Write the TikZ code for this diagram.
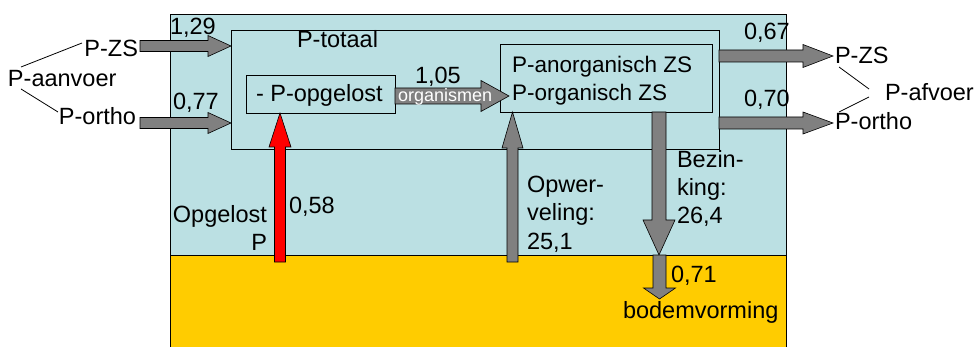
\documentclass[tikz,border=0pt]{standalone}
\usepackage{fontspec}
\setmainfont{Liberation Sans}
\usetikzlibrary{calc}
\definecolor{water}{RGB}{187,224,227}
\definecolor{soil}{RGB}{255,204,0}
\definecolor{flow}{RGB}{128,128,128}
% block arrow: style, from, to, shaft half width, head half width, head length
\newcommand\blockarrow[6]{%
  \coordinate (bahead) at ($(#3)!#6!(#2)$);
  \draw[#1] ($(#2)!#4!90:(#3)$) -- ($(bahead)!#4!90:(#3)$) -- ($(bahead)!#5!90:(#3)$)
    -- (#3) -- ($(bahead)!#5!-90:(#3)$) -- ($(bahead)!#4!-90:(#3)$)
    -- ($(#2)!#4!-90:(#3)$) -- cycle;}
\begin{document}
\begin{tikzpicture}[x=1pt,y=-1pt,
  box/.style={draw=black,line width=0.8pt,inner sep=0,outer sep=0},
  txt/.style={inner sep=0,outer sep=0,font=\fontsize{23.5}{28}\selectfont},
  small/.style={inner sep=0,outer sep=0,font=\fontsize{18}{21}\selectfont,text=white},
  grey/.style={fill=flow,draw=black,line width=0.6pt},
  redarrow/.style={fill=red,draw=black,line width=0.6pt},
  link/.style={draw=black,line width=0.8pt}]
\useasboundingbox (0,0) rectangle (976,347);

% water column and sediment
\node[box,fill=water,minimum width=616,minimum height=334] (water) at (478,181) {};
\node[box,fill=soil,minimum width=616,minimum height=93] (sediment) at (478,301.5) {};

% compartments
\node[box,minimum width=488,minimum height=119] (totaal) at (475,89.5) {};
\node[box,minimum width=149,minimum height=38] (opgelost) at (320.5,94) {};
\node[box,minimum width=212,minimum height=68] (anorg) at (606,78) {};

\node[txt,anchor=base west] (totaallbl) at (297,48) {P-totaal};
\node[txt,anchor=base west] (opglbl) at (256,102) {- P-opgelost};
\node[txt,anchor=base west,font=\fontsize{22.5}{28}\selectfont] (anorg1) at (512,73) {P-anorganisch ZS};
\node[txt,anchor=base west,font=\fontsize{22.5}{28}\selectfont] (anorg2) at (512,101) {P-organisch ZS};

% supply side
\node[txt,anchor=base west] (aanvoer) at (8,87) {P-aanvoer};
\node[txt,anchor=base east] (zsin) at (138,57) {P-ZS};
\node[txt,anchor=base east] (orthoin) at (136,125) {P-ortho};
\coordinate (aanvA) at (21,67);
\coordinate (aanvB) at (21,89);
\coordinate (zsinL) at (82,43);
\coordinate (orthoinL) at (58,112);
\draw[link] (aanvA) -- (zsinL);
\draw[link] (aanvB) -- (orthoinL);

\coordinate (inZS) at (140,46);
\coordinate (inOrtho) at (140,123);
\coordinate (inZStip) at (totaal.west |- inZS);
\coordinate (inOrthotip) at (totaal.west |- inOrtho);
\blockarrow{grey}{inZS}{inZStip}{5.5pt}{10.5pt}{23pt}
\blockarrow{grey}{inOrtho}{inOrthotip}{5.5pt}{10.5pt}{23pt}
\node[txt,anchor=base west] (v129) at (170,35) {1,29};
\node[txt,anchor=base west] (v077) at (173,110) {0,77};

% export side
\coordinate (outZS) at (833,56);
\coordinate (outOrtho) at (833,123);
\coordinate (outZSfoot) at (totaal.east |- outZS);
\coordinate (outOrthofoot) at (totaal.east |- outOrtho);
\blockarrow{grey}{outZSfoot}{outZS}{6pt}{11.5pt}{30pt}
\blockarrow{grey}{outOrthofoot}{outOrtho}{6pt}{11pt}{30pt}
\node[txt,anchor=base west] (v067) at (744,40) {0,67};
\node[txt,anchor=base west] (v070) at (744,107) {0,70};
\node[txt,anchor=base west] (zsout) at (835,64) {P-ZS};
\node[txt,anchor=base west] (orthoout) at (835,130) {P-ortho};
\node[txt,anchor=base west] (afvoer) at (885,101) {P-afvoer};
\coordinate (zsoutL) at (839,67);
\coordinate (orthooutL) at (839,112);
\coordinate (afvA) at (869,89);
\coordinate (afvB) at (869,97);
\draw[link] (zsoutL) -- (afvA);
\draw[link] (orthooutL) -- (afvB);

% uptake by organisms
\coordinate (orgfoot) at (opgelost.east |- 0,96);
\coordinate (orgtip) at (509,96);
\blockarrow{grey}{orgfoot}{orgtip}{8pt}{15.5pt}{28pt}
\node[txt,anchor=base west] (v105) at (415,84) {1,05};
\node[small,anchor=base west] (orglbl) at (398,101.5) {organismen};

% release of dissolved P from the sediment
\coordinate (redfoot) at (280,262);
\coordinate (redtip) at (redfoot |- opgelost.south);
\blockarrow{redarrow}{redfoot}{redtip}{5.5pt}{11pt}{34pt}
\node[txt,anchor=base east] (opg1) at (267,223) {Opgelost};
\node[txt,anchor=base east] (opg2) at (267,251) {P};
\node[txt,anchor=base west] (v058) at (289,214) {0,58};

% resuspension
\coordinate (upfoot) at (512.5,262);
\coordinate (uptip) at (upfoot |- anorg.south);
\blockarrow{grey}{upfoot}{uptip}{5.5pt}{10.5pt}{36pt}
\node[txt,anchor=base west] (opw1) at (527,193) {Opwer-};
\node[txt,anchor=base west] (opw2) at (527,221) {veling:};
\node[txt,anchor=base west] (opw3) at (527,249) {25,1};

% settling
\coordinate (sinkx) at (659,200);
\coordinate (sinktop) at (sinkx |- anorg.south);
\coordinate (sinktip) at (sinkx |- sediment.north);
\blockarrow{grey}{sinktop}{sinktip}{7pt}{16pt}{35pt}
\node[txt,anchor=base west] (bez1) at (677,168) {Bezin-};
\node[txt,anchor=base west] (bez2) at (677,196) {king:};
\node[txt,anchor=base west] (bez3) at (677,224) {26,4};

% burial
\coordinate (bodemtip) at (659.5,299);
\coordinate (bodemfoot) at (bodemtip |- sediment.north);
\blockarrow{grey}{bodemfoot}{bodemtip}{6.5pt}{16pt}{11pt}
\node[txt,anchor=base west] (v071) at (671,282) {0,71};
\node[txt,anchor=base west] (bodem) at (623,318) {bodemvorming};
\end{tikzpicture}
\end{document}
